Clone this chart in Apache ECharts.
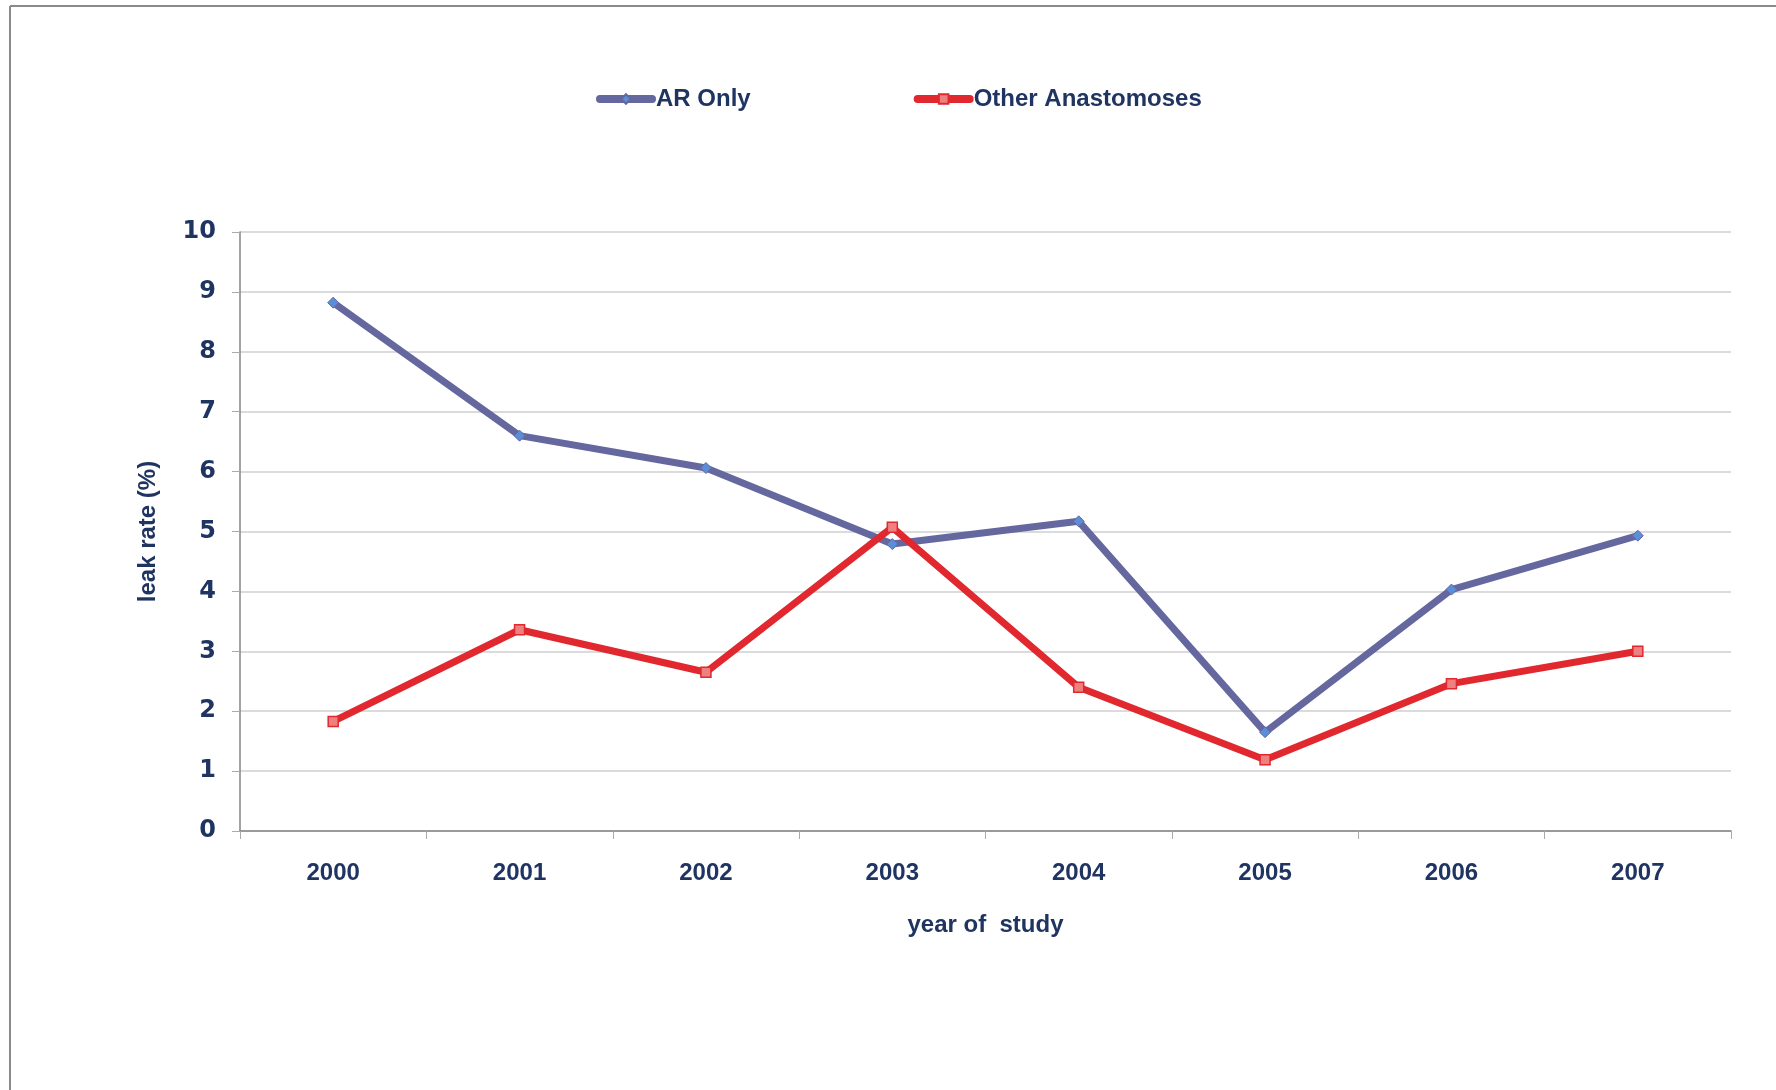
<!DOCTYPE html>
<html><head><meta charset="utf-8">
<script src="https://cdn.jsdelivr.net/npm/echarts@6/dist/echarts.min.js"></script>
<style>html,body{margin:0;padding:0;background:#fff}#c{width:1776px;height:1090px}</style>
</head><body><div id="c"></div>
<script>
const years = ['2000','2001','2002','2003','2004','2005','2006','2007'];
const arOnly = [8.82, 6.60, 6.06, 4.79, 5.17, 1.65, 4.03, 4.93];
const otherAnast = [1.83, 3.36, 2.65, 5.07, 2.40, 1.19, 2.46, 3.00];
const yTicks = [0,1,2,3,4,5,6,7,8,9,10];

const navy = '#1F3461';
const narrow = "'Liberation Sans Narrow','Arial Narrow','Liberation Sans',sans-serif";
const chart = echarts.init(document.getElementById('c'));
chart.setOption({
  animation: false,
  backgroundColor: '#fff',
  graphic: [
    {type:'line', shape:{x1:10,y1:6,x2:1776,y2:6}, style:{stroke:'#8a8a8a',lineWidth:2}},
    {type:'line', shape:{x1:10,y1:6,x2:10,y2:1090}, style:{stroke:'#8a8a8a',lineWidth:2}}
  ],
  legend: {
    left: 591, top: 82,
    itemWidth: 52, itemHeight: 12, itemGap: 163,
    lineStyle: {width: 8, cap: 'round'},
    textStyle: {color: navy, fontFamily: narrow, fontWeight: 'bold', fontSize: 24, padding:[0,0,0,-1]},
    data: ['AR Only','Other Anastomoses']
  },
  grid: {left: 240, right: 45, top: 232, bottom: 259},
  xAxis: {
    type: 'category', data: years, boundaryGap: true,
    name: 'year of  study', nameLocation: 'middle', nameGap: 82,
    nameTextStyle: {color: navy, fontFamily: narrow, fontWeight: 'bold', fontSize: 24},
    axisLine: {lineStyle: {color: '#858585', width: 1.5}},
    axisTick: {show: true, length: 8, lineStyle: {color: '#aaa'}},
    axisLabel: {color: navy, fontFamily: narrow, fontWeight: 'bold', fontSize: 24, margin: 30},
    splitLine: {show: false}
  },
  yAxis: {
    type: 'value', min: 0, max: 10, interval: 1,
    name: 'leak rate (%)', nameLocation: 'middle', nameGap: 80, nameRotate: 90,
    nameTextStyle: {color: navy, fontFamily: narrow, fontWeight: 'bold', fontSize: 24},
    axisLine: {show: true, lineStyle: {color: '#858585', width: 1.5}},
    axisTick: {show: true, length: 8, lineStyle: {color: '#aaa'}},
    axisLabel: {color: navy, fontFamily: "'DejaVu Sans',sans-serif", fontWeight: 'bold', fontSize: 24, margin: 24,
      formatter: v => yTicks.includes(v) ? String(v) : ''},
    splitLine: {lineStyle: {color: '#cfcfcf', width: 1.5}}
  },
  series: [
    {name: 'AR Only', type: 'line', data: arOnly, symbol: 'diamond', symbolSize: 11,
     lineStyle: {color: '#65679F', width: 7}, itemStyle: {color: '#5A8ED8', borderColor: '#65679F', borderWidth: 1}, z: 2},
    {name: 'Other Anastomoses', type: 'line', data: otherAnast, symbol: 'rect', symbolSize: 10,
     lineStyle: {color: '#E0282E', width: 7}, itemStyle: {color: '#EE8080', borderColor: '#E0282E', borderWidth: 1.5}, z: 3}
  ]
});
</script></body></html>
